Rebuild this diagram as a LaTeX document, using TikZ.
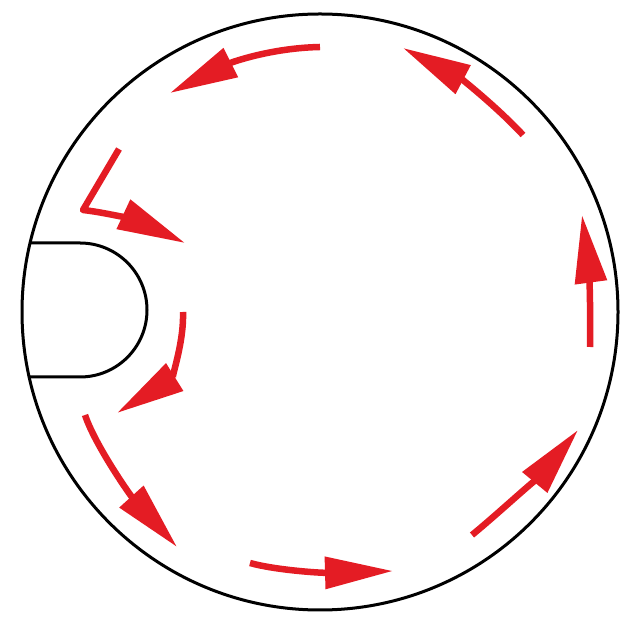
\documentclass[tikz,border=0pt]{standalone}
\usetikzlibrary{arrows.meta}
\definecolor{arrowred}{RGB}{228,28,36}
\begin{document}
\begin{tikzpicture}[x=1pt,y=1pt,
  outline/.style={draw=black,line width=3pt},
  flow/.style={draw=arrowred,line width=6.5pt,line join=round,
    -{Triangle[length=68pt,width=31pt]}}]
\useasboundingbox (0,0) rectangle (621,623);
\fill[white] (0,0) rectangle (621,623);
% vessel
\coordinate (c) at (320,311);
\draw[outline] (c) circle (298);
% cut-out
\coordinate (ct) at (30,380);
\coordinate (cb) at (29,246);
\draw[outline,line join=round] (ct) -- (80,380) arc (90:-90:67) -- (cb);
% arrows
\coordinate (a1) at (320,576); \coordinate (b1) at (170,530);
\draw[flow] (a1) .. controls (270,575) and (230,560) .. (b1);
\coordinate (a2) at (523,488); \coordinate (b2) at (403,575);
\draw[flow] (a2) .. controls (495,518) and (460,545) .. (b2);
\coordinate (a3) at (590,276); \coordinate (b3) at (582,408);
\draw[flow] (a3) .. controls (591,323) and (588,363) .. (b3);
\coordinate (a4) at (472,88); \coordinate (b4) at (578,193);
\draw[flow] (a4) .. controls (500,111) and (545,153) .. (b4);
\coordinate (a5) at (250,60); \coordinate (b5) at (393,52);
\draw[flow] (a5) .. controls (275,53) and (320,50) .. (b5);
\coordinate (a6) at (85,208); \coordinate (b6) at (177,76);
\draw[flow] (a6) .. controls (95,178) and (130,128) .. (b6);
\coordinate (a7) at (183,311); \coordinate (b7) at (117,210);
\draw[flow] (a7) .. controls (184,278) and (170,243) .. (b7);
\coordinate (a8) at (119,474); \coordinate (k8) at (83,413); \coordinate (b8) at (185,380);
\draw[flow] (a8) -- (k8) .. controls (110,410) and (140,401) .. (b8);
\end{tikzpicture}
\end{document}
